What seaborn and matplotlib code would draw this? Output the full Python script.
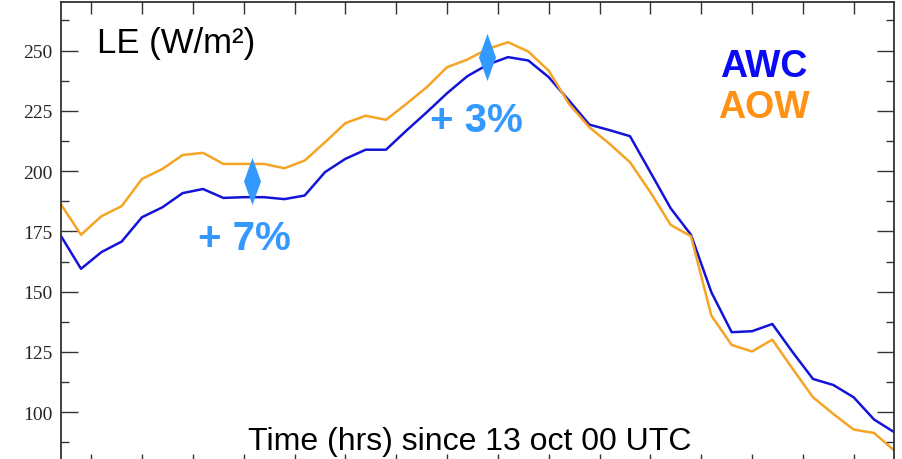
import numpy as np
import pandas as pd
import matplotlib
matplotlib.use("Agg")
import matplotlib.pyplot as plt
from matplotlib.ticker import MultipleLocator
import seaborn as sns

sns.set_style("ticks")
plt.rcParams['font.family'] = ['Liberation Sans', 'DejaVu Sans']

# hours since 13 oct 00 UTC (2-hourly output)
hours = list(range(2, 86, 2))

awc = [173.3, 159.5, 166.4, 170.8, 180.9, 185.0, 190.9, 192.6, 188.9, 189.2,
       189.2, 188.4, 189.9, 199.6, 205.1, 208.9, 208.9, 216.8, 224.4, 232.3,
       239.4, 244.2, 247.3, 245.9, 239.0, 229.3, 219.3, 217.0, 214.5, 199.6,
       184.6, 173.6, 149.8, 133.2, 133.6, 136.6, 124.9, 113.8, 111.3, 106.2,
       97.0, 91.7]

aow = [186.4, 173.6, 181.3, 185.5, 196.8, 200.9, 206.7, 207.6, 203.0, 203.0,
       203.0, 201.2, 204.4, 212.0, 219.9, 223.0, 221.3, 227.9, 234.8, 243.1,
       246.3, 250.7, 253.5, 249.6, 241.7, 227.9, 218.2, 211.3, 203.7, 191.3,
       177.7, 173.0, 140.1, 127.9, 125.2, 130.1, 118.0, 106.2, 99.3, 92.8,
       91.4, 84.1]

runs = ['AWC', 'AOW']
line_colors = {'AWC': '#1414d8', 'AOW': '#f5a424'}
text_colors = {'AWC': '#0a0af5', 'AOW': '#ff9214'}
accent = '#3399ff'

# where the differences are marked (hour, label)
diff_marks = [(20.8, '+ 7%'), (43.9, '+ 3%')]

df = pd.DataFrame({'hours': hours * 2,
                   'LE': awc + aow,
                   'run': ['AWC'] * len(awc) + ['AOW'] * len(aow)})

fig = plt.figure(figsize=(9.03, 4.6), dpi=100)
ax = fig.add_axes([0.0672, -0.0152, 0.9232, 1.0078])

sns.lineplot(data=df, x='hours', y='LE', hue='run', hue_order=runs,
             palette=line_colors, linewidth=1.8, legend=False, ax=ax)

ax.set_xlim(2, 84)
ax.set_ylim(77.7, 270)
ax.xaxis.set_major_locator(MultipleLocator(5))
ax.yaxis.set_major_locator(MultipleLocator(25))
ax.yaxis.set_minor_locator(MultipleLocator(12.5))
ax.set_xlabel('')
ax.set_ylabel('')
ax.set_xticklabels([])
ax.tick_params(axis='x', which='both', direction='in', top=True, bottom=True,
               length=8.5, width=1, color='#333333')
ax.tick_params(axis='y', which='major', direction='in', left=True, right=True,
               length=12, width=1, color='#333333', pad=6)
ax.tick_params(axis='y', which='minor', direction='in', left=True, right=True,
               length=6, width=1, color='#333333')
for lab in ax.get_yticklabels():
    lab.set_family('Liberation Serif')
    lab.set_fontsize(14)
for sp in ax.spines.values():
    sp.set_visible(True)
    sp.set_linewidth(1.3)
    sp.set_color('#333333')

# title inside the panel
ax.text(0.043, 0.893, 'LE (W/m²)', transform=ax.transAxes, fontsize=25,
        color='black', va='baseline', ha='left')

# run labels
ax.text(0.843, 0.8412, 'AWC', transform=ax.transAxes, fontsize=27,
        fontweight='bold', color=text_colors['AWC'], ha='center', va='baseline')
ax.text(0.843, 0.7528, 'AOW', transform=ax.transAxes, fontsize=27,
        fontweight='bold', color=text_colors['AOW'], ha='center', va='baseline')

# difference markers: elongated diamonds centred between the two runs
diamond = [(0, 1), (0.36, 0), (0, -1), (-0.36, 0), (0, 1)]
for h, _ in diff_marks:
    i = hours.index(int(h // 2 * 2))
    frac = (h - hours[i]) / 2
    lo = awc[i] + frac * (awc[i + 1] - awc[i])
    hi = aow[i] + frac * (aow[i + 1] - aow[i])
    ax.plot([h], [(lo + hi) / 2], marker=diamond, markersize=34,
            color=accent, markeredgewidth=0, linestyle='none')

ax.text(0.2205, 0.468, diff_marks[0][1], transform=ax.transAxes, fontsize=29,
        fontweight='bold', color=accent, ha='center', va='baseline')
ax.text(0.4988, 0.7226, diff_marks[1][1], transform=ax.transAxes, fontsize=29,
        fontweight='bold', color=accent, ha='center', va='baseline')

# axis title sits inside the frame near the bottom
fig.text(470 / 903, 10 / 460, 'Time (hrs) since 13 oct 00 UTC',
         fontsize=23, color='black', ha='center', va='baseline')

fig.savefig('out.png', dpi=100)
